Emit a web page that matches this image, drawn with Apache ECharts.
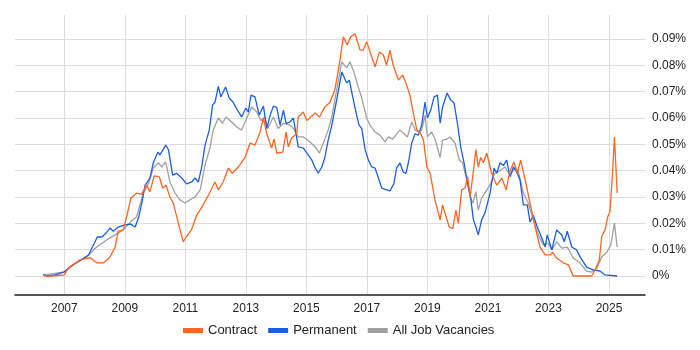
<!DOCTYPE html>
<html>
<head>
<meta charset="utf-8">
<script src="https://cdn.jsdelivr.net/npm/echarts@6/dist/echarts.min.js"></script>
<style>
    html, body {margin: 0; padding: 0; background: #fff;}
    #main {width: 700px; height: 350px;}
</style>
</head>
<body>
<div id="main"></div>
<script>
// x = decimal year, y = share of jobs in %
var seriesNames = ['Contract', 'Permanent', 'All Job Vacancies'];
var yearTicks = [2007, 2009, 2011, 2013, 2015, 2017, 2019, 2021, 2023, 2025];
var percentTicks = [0, 0.01, 0.02, 0.03, 0.04, 0.05, 0.06, 0.07, 0.08, 0.09];

var contractData = [
    [2006.33, 0], [2006.6, 0], [2007.0, 0.0004], [2007.13, 0.003], [2007.5, 0.006], [2007.85, 0.007],
    [2008.07, 0.005], [2008.3, 0.005], [2008.5, 0.007], [2008.68, 0.011], [2008.78, 0.017], [2008.95, 0.0175],
    [2009.06, 0.0225], [2009.2, 0.0296], [2009.4, 0.0315], [2009.55, 0.031], [2009.72, 0.0345], [2009.83, 0.032],
    [2009.97, 0.038], [2010.14, 0.0376], [2010.25, 0.0334], [2010.36, 0.0345], [2010.49, 0.030], [2010.6, 0.0277],
    [2010.77, 0.020], [2010.93, 0.013], [2011.04, 0.015], [2011.2, 0.0175], [2011.37, 0.023], [2011.59, 0.027],
    [2011.8, 0.0315], [2011.98, 0.0357], [2012.09, 0.0327], [2012.25, 0.0357], [2012.42, 0.041], [2012.55, 0.039],
    [2012.75, 0.0414], [2012.97, 0.045], [2013.14, 0.0505], [2013.3, 0.0497], [2013.47, 0.0547], [2013.58, 0.060],
    [2013.69, 0.054], [2013.85, 0.0486], [2013.93, 0.052], [2014.02, 0.0467], [2014.22, 0.047], [2014.33, 0.0547],
    [2014.4, 0.049], [2014.51, 0.0524], [2014.68, 0.054], [2014.73, 0.0604], [2014.9, 0.0623], [2015.01, 0.059],
    [2015.29, 0.0619], [2015.43, 0.0604], [2015.61, 0.0642], [2015.78, 0.066], [2015.94, 0.0706], [2016.11, 0.082],
    [2016.22, 0.0908], [2016.35, 0.0877], [2016.46, 0.0908], [2016.61, 0.092], [2016.77, 0.0858], [2016.88, 0.0858],
    [2016.99, 0.089], [2017.12, 0.0846], [2017.27, 0.0794], [2017.41, 0.085], [2017.54, 0.084], [2017.65, 0.080],
    [2017.76, 0.0858], [2017.87, 0.080], [2018.04, 0.0744], [2018.18, 0.0763], [2018.29, 0.0733], [2018.42, 0.0687],
    [2018.53, 0.062], [2018.65, 0.0554], [2018.75, 0.0547], [2018.87, 0.0516], [2018.98, 0.0414], [2019.09, 0.039],
    [2019.25, 0.0289], [2019.42, 0.0213], [2019.5, 0.027], [2019.58, 0.0239], [2019.72, 0.0186], [2019.84, 0.018],
    [2019.94, 0.025], [2020.02, 0.020], [2020.13, 0.0327], [2020.24, 0.0334], [2020.33, 0.0376], [2020.41, 0.030],
    [2020.52, 0.040], [2020.6, 0.048], [2020.68, 0.0414], [2020.76, 0.045], [2020.85, 0.043], [2020.96, 0.0467],
    [2021.12, 0.039], [2021.29, 0.0345], [2021.46, 0.0372], [2021.6, 0.0327], [2021.73, 0.040], [2021.86, 0.0433],
    [2021.97, 0.039], [2022.08, 0.044], [2022.23, 0.0365], [2022.39, 0.0277], [2022.56, 0.0186], [2022.72, 0.011],
    [2022.89, 0.008], [2023.05, 0.008], [2023.14, 0.009], [2023.27, 0.0068], [2023.49, 0.005], [2023.66, 0.0042],
    [2023.82, 0], [2024.43, 0], [2024.54, 0.0023], [2024.68, 0.006], [2024.76, 0.015], [2024.87, 0.0175],
    [2024.96, 0.0225], [2025.03, 0.0243], [2025.11, 0.0376], [2025.18, 0.0528], [2025.27, 0.0315]
];

var permanentData = [
    [2006.3, 0.0006], [2006.42, 0], [2006.69, 0.0004], [2007.0, 0.0016], [2007.24, 0.004], [2007.52, 0.006],
    [2007.8, 0.008], [2007.96, 0.0118], [2008.09, 0.0148], [2008.24, 0.0148], [2008.38, 0.0163], [2008.51, 0.0182],
    [2008.62, 0.017], [2008.78, 0.0186], [2009.0, 0.0194], [2009.19, 0.0197], [2009.34, 0.0186], [2009.45, 0.022],
    [2009.56, 0.0277], [2009.67, 0.0345], [2009.83, 0.0372], [2009.94, 0.043], [2010.09, 0.047], [2010.16, 0.046],
    [2010.35, 0.0497], [2010.44, 0.048], [2010.58, 0.0383], [2010.71, 0.039], [2010.88, 0.0372], [2011.04, 0.035],
    [2011.21, 0.0357], [2011.32, 0.0372], [2011.43, 0.0357], [2011.54, 0.0414], [2011.65, 0.0497], [2011.79, 0.0554],
    [2011.9, 0.065], [2011.98, 0.066], [2012.09, 0.072], [2012.17, 0.068], [2012.33, 0.0718], [2012.45, 0.0676],
    [2012.58, 0.066], [2012.72, 0.063], [2012.86, 0.0604], [2013.0, 0.0638], [2013.08, 0.0623], [2013.17, 0.0687],
    [2013.3, 0.068], [2013.44, 0.0611], [2013.58, 0.0645], [2013.69, 0.056], [2013.8, 0.061], [2013.91, 0.0645],
    [2014.02, 0.064], [2014.13, 0.0573], [2014.24, 0.063], [2014.33, 0.058], [2014.46, 0.0585], [2014.57, 0.060],
    [2014.73, 0.049], [2014.9, 0.0486], [2015.06, 0.046], [2015.18, 0.044], [2015.29, 0.041], [2015.39, 0.039],
    [2015.51, 0.0414], [2015.61, 0.045], [2015.72, 0.0516], [2015.84, 0.0573], [2016.0, 0.0668], [2016.17, 0.0775],
    [2016.33, 0.0733], [2016.42, 0.0744], [2016.53, 0.068], [2016.66, 0.0611], [2016.74, 0.0573], [2016.83, 0.056],
    [2016.94, 0.048], [2017.05, 0.044], [2017.16, 0.0414], [2017.27, 0.041], [2017.38, 0.0372], [2017.49, 0.0334],
    [2017.65, 0.0327], [2017.76, 0.0323], [2017.89, 0.035], [2017.98, 0.041], [2018.09, 0.043], [2018.2, 0.0395],
    [2018.29, 0.039], [2018.37, 0.043], [2018.48, 0.0505], [2018.59, 0.054], [2018.7, 0.0535], [2018.81, 0.0573],
    [2018.92, 0.066], [2019.0, 0.060], [2019.11, 0.063], [2019.22, 0.068], [2019.33, 0.0687], [2019.42, 0.058],
    [2019.5, 0.0642], [2019.65, 0.0695], [2019.77, 0.0668], [2019.88, 0.0657], [2019.99, 0.058], [2020.1, 0.049],
    [2020.21, 0.043], [2020.32, 0.0357], [2020.43, 0.0296], [2020.52, 0.0213], [2020.6, 0.0186], [2020.68, 0.0156],
    [2020.79, 0.0213], [2020.9, 0.0239], [2021.07, 0.0315], [2021.2, 0.041], [2021.29, 0.039], [2021.4, 0.043],
    [2021.51, 0.042], [2021.62, 0.044], [2021.73, 0.0376], [2021.84, 0.0414], [2021.95, 0.0395], [2022.06, 0.0365],
    [2022.17, 0.027], [2022.3, 0.027], [2022.39, 0.0205], [2022.5, 0.023], [2022.63, 0.0186], [2022.78, 0.0144],
    [2022.89, 0.011], [2022.96, 0.0156], [2023.11, 0.0099], [2023.27, 0.0175], [2023.44, 0.0156], [2023.52, 0.013],
    [2023.62, 0.017], [2023.77, 0.011], [2023.93, 0.0099], [2024.07, 0.0068], [2024.26, 0.0034], [2024.48, 0.0023],
    [2024.7, 0.0019], [2024.87, 0.0004], [2025.27, 0]
];

var allJobsData = [
    [2006.3, 0.0003], [2007.0, 0.0016], [2007.41, 0.005], [2007.74, 0.0072], [2008.07, 0.011], [2008.4, 0.0137],
    [2008.68, 0.0156], [2008.95, 0.0175], [2009.23, 0.021], [2009.39, 0.0225], [2009.61, 0.0315], [2009.78, 0.035],
    [2009.94, 0.041], [2010.11, 0.043], [2010.22, 0.0414], [2010.35, 0.0433], [2010.49, 0.0357], [2010.66, 0.0315],
    [2010.82, 0.0289], [2010.99, 0.0277], [2011.15, 0.0289], [2011.32, 0.030], [2011.49, 0.0327], [2011.65, 0.042],
    [2011.82, 0.049], [2011.92, 0.0554], [2012.09, 0.060], [2012.23, 0.058], [2012.34, 0.0604], [2012.53, 0.0585],
    [2012.7, 0.0566], [2012.86, 0.0554], [2013.03, 0.060], [2013.19, 0.0642], [2013.36, 0.0623], [2013.5, 0.059],
    [2013.63, 0.0604], [2013.72, 0.056], [2013.91, 0.0604], [2014.07, 0.056], [2014.24, 0.058], [2014.46, 0.0573],
    [2014.57, 0.056], [2014.73, 0.0528], [2014.9, 0.0528], [2015.12, 0.0509], [2015.29, 0.049], [2015.43, 0.0467],
    [2015.56, 0.0505], [2015.72, 0.0554], [2015.84, 0.0604], [2016.0, 0.0706], [2016.17, 0.0813], [2016.33, 0.079],
    [2016.44, 0.0813], [2016.57, 0.0775], [2016.71, 0.0718], [2016.82, 0.068], [2016.99, 0.060], [2017.1, 0.0573],
    [2017.27, 0.0547], [2017.43, 0.0535], [2017.6, 0.0509], [2017.71, 0.0528], [2017.85, 0.052], [2018.09, 0.0554],
    [2018.34, 0.0528], [2018.48, 0.0585], [2018.59, 0.0554], [2018.7, 0.0547], [2018.81, 0.0554], [2018.92, 0.061],
    [2019.0, 0.0528], [2019.14, 0.0547], [2019.25, 0.052], [2019.42, 0.045], [2019.5, 0.0516], [2019.64, 0.052],
    [2019.74, 0.0528], [2019.91, 0.0505], [2020.05, 0.044], [2020.16, 0.043], [2020.3, 0.0365], [2020.41, 0.030],
    [2020.5, 0.0277], [2020.6, 0.032], [2020.68, 0.025], [2020.79, 0.0296], [2020.96, 0.0327], [2021.09, 0.035],
    [2021.23, 0.039], [2021.4, 0.040], [2021.56, 0.0414], [2021.73, 0.0383], [2021.89, 0.041], [2022.0, 0.040],
    [2022.17, 0.0315], [2022.33, 0.0277], [2022.5, 0.0213], [2022.66, 0.0156], [2022.83, 0.0118], [2022.99, 0.0125],
    [2023.11, 0.0099], [2023.27, 0.013], [2023.44, 0.0106], [2023.62, 0.011], [2023.82, 0.0068], [2024.04, 0.005],
    [2024.26, 0.0019], [2024.43, 0.0015], [2024.6, 0.003], [2024.76, 0.0072], [2024.93, 0.009], [2025.06, 0.0118],
    [2025.18, 0.0201], [2025.27, 0.011]
];

var myChart = echarts.init(document.getElementById('main'));

var textFont = 'Liberation Sans, Arial, sans-serif';

var option = {
    animation: false,
    backgroundColor: '#fff',
    textStyle: {fontFamily: textFont},
    legend: {
        data: seriesNames,
        bottom: 8,
        left: 178,
        icon: 'rect',
        itemWidth: 20,
        itemHeight: 5,
        itemGap: 11,
        textStyle: {fontSize: 13, color: '#222', fontFamily: textFont}
    },
    // grid 0 -> percent labels + horizontal lines, grid 1 -> data
    grid: [
        {left: 15, right: 55, top: 39, bottom: 74},
        {left: 15, right: 55, top: 15, bottom: 55}
    ],
    xAxis: [
        {gridIndex: 0, type: 'value', min: 2005.37, max: 2026.19, show: false},
        {
            gridIndex: 1,
            type: 'value',
            min: 2005.37,
            max: 2026.19,
            axisLine: {show: true, onZero: false, lineStyle: {color: '#222', width: 1.5}},
            axisTick: {show: false, customValues: yearTicks},
            axisLabel: {
                customValues: yearTicks,
                color: '#222',
                fontSize: 12,
                margin: 8,
                formatter: function (v) { return String(Math.round(v)); }
            },
            splitLine: {show: true, lineStyle: {color: '#dddddd', width: 1}}
        }
    ],
    yAxis: [
        {
            gridIndex: 0,
            type: 'value',
            position: 'right',
            min: 0,
            max: 0.09,
            interval: 0.01,
            axisLine: {show: false},
            axisTick: {show: false},
            axisLabel: {
                color: '#222',
                fontSize: 12,
                margin: 7,
                formatter: function (v) {
                    let r = Math.round(v * 100) / 100;
                    return r === 0 ? '0%' : r.toFixed(2) + '%';
                }
            },
            splitLine: {show: true, lineStyle: {color: '#dddddd', width: 1}}
        },
        {gridIndex: 1, type: 'value', min: -0.007215, max: 0.09911, show: false}
    ],
    series: [
        {
            name: 'All Job Vacancies',
            type: 'line',
            xAxisIndex: 1,
            yAxisIndex: 1,
            data: allJobsData,
            showSymbol: false,
            lineStyle: {color: '#a0a0a0', width: 1.3},
            itemStyle: {color: '#a0a0a0'}
        },
        {
            name: 'Permanent',
            type: 'line',
            xAxisIndex: 1,
            yAxisIndex: 1,
            data: permanentData,
            showSymbol: false,
            lineStyle: {color: '#1a5fe0', width: 1.3},
            itemStyle: {color: '#1a5fe0'}
        },
        {
            name: 'Contract',
            type: 'line',
            xAxisIndex: 1,
            yAxisIndex: 1,
            data: contractData,
            showSymbol: false,
            lineStyle: {color: '#ff6420', width: 1.3},
            itemStyle: {color: '#ff6420'}
        }
    ]
};

myChart.setOption(option);
</script>
</body>
</html>
